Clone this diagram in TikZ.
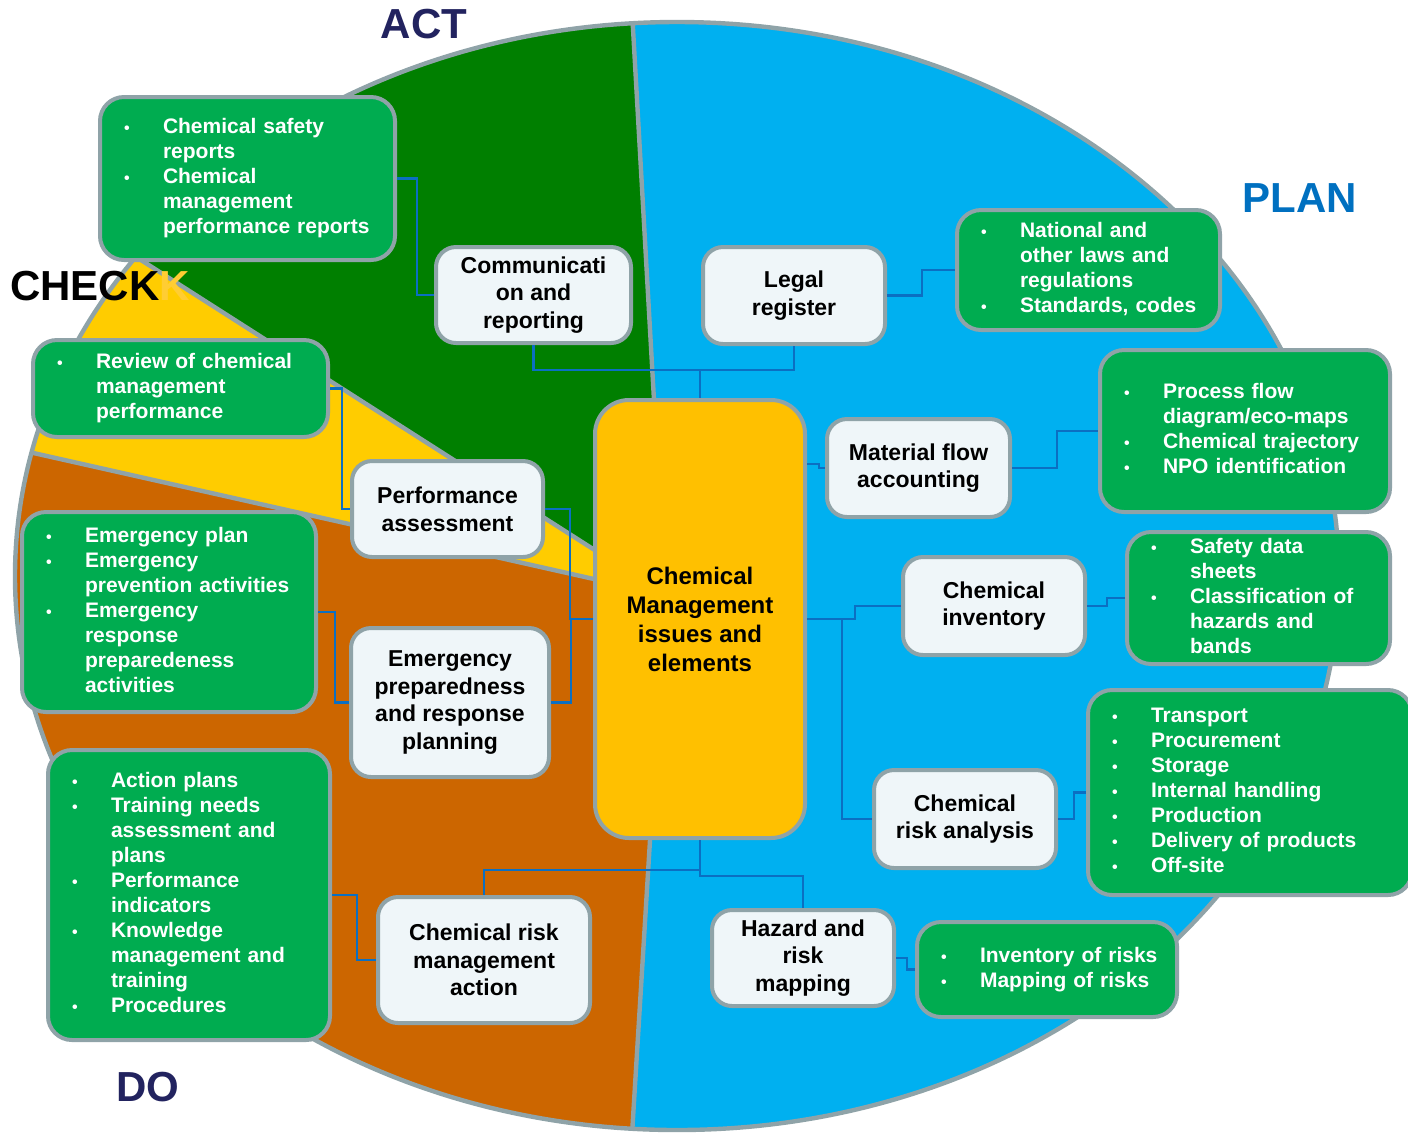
\documentclass[tikz,border=0pt]{standalone}
\usepackage{fontspec}
\setmainfont{Liberation Sans}
\usetikzlibrary{positioning,calc}
\definecolor{planblue}{HTML}{00B0F0}
\definecolor{actgreen}{HTML}{007F00}
\definecolor{checkyellow}{HTML}{FFCC00}
\definecolor{doorange}{HTML}{CC6600}
\definecolor{boxgreen}{HTML}{00AC50}
\definecolor{coreyellow}{HTML}{FFC000}
\definecolor{boxwhite}{HTML}{EFF6F9}
\definecolor{rimgray}{HTML}{8FA3A8}
\definecolor{linkblue}{HTML}{0B6FC2}
\definecolor{navy}{HTML}{22235F}
\definecolor{planlabel}{HTML}{0070C0}
\tikzstyle{phase} = [font=\bfseries\fontsize{21}{21}\selectfont]
\tikzstyle{element} = [draw=rimgray, line width=2pt, fill=boxwhite, rounded corners=10pt, align=center, inner sep=2pt, font=\bfseries\fontsize{11.5}{13.8}\selectfont]
\tikzstyle{bullets} = [draw=rimgray, line width=2pt, fill=boxgreen, rounded corners=12pt, text=white, align=left, inner xsep=6pt, inner ysep=0pt, font=\bfseries\fontsize{10.5}{12.5}\selectfont]
\tikzstyle{core} = [element, fill=coreyellow, rounded corners=17pt, font=\bfseries\fontsize{12}{14.5}\selectfont]
\tikzstyle{link} = [draw=linkblue, line width=1.1pt]
\tikzstyle{rim} = [draw=rimgray, line width=2.2pt]
\newcommand{\blist}[1]{\begin{tabular}{@{}p{25.5pt}@{}l@{}}#1\end{tabular}}
\newcommand{\bu}{\hspace*{6pt}{\footnotesize\textbullet}}

\begin{document}
\begin{tikzpicture}[x=0.5pt,y=-0.5pt]
\useasboundingbox (0,0) rectangle (1408,1132);
% the four PDCA sectors
\begin{scope}
\clip (677,576) ellipse [x radius=662, y radius=554];
\fill[planblue] (665,595) -- (628,-60) -- (1500,-60) -- (1500,1200) -- (628,1200) -- cycle;
\fill[actgreen] (665,595) -- (628,-60) -- (-100,-60) -- (-100,106) -- cycle;
\fill[checkyellow] (665,595) -- (-100,106) -- (-100,423) -- cycle;
\fill[doorange] (665,595) -- (-100,423) -- (-100,1200) -- (628,1200) -- cycle;
\draw[rim] (665,595) -- (628,-60) (665,595) -- (628,1200) (665,595) -- (-100,106) (665,595) -- (-100,423);
\end{scope}
\draw[rim] (677,576) ellipse [x radius=662, y radius=554];

\node[phase, text=navy] (act) at (424,24) {ACT};
\node[phase, text=planlabel] (plan) at (1300,198) {PLAN};
\node[phase, anchor=west] (check) at (3,286) {CHECK\textcolor{coreyellow!80}{K}};
\node[phase, text=navy] (do) at (148,1087) {DO};

% centre and elements
\node[core, minimum width=105pt, minimum height=219pt] (chem) at (700,619) {Chemical\\Management\\issues and\\elements};
\node[element, minimum width=97.5pt, minimum height=48pt] (comm) at (533.5,295) {Communicati\\on and\\reporting};
\node[element, minimum width=91pt, minimum height=48.5pt] (legal) at (794,295.5) {Legal\\register};
\node[element, minimum width=95.5pt, minimum height=48pt] (perf) at (447.5,509) {Performance\\assessment};
\node[element, minimum width=91.5pt, minimum height=49pt] (matflow) at (918.5,468) {Material flow\\accounting};
\node[element, minimum width=91pt, minimum height=49pt] (inventory) at (994,606) {Chemical\\inventory};
\node[element, minimum width=99pt, minimum height=74.5pt] (emplan) at (450,702.5) {Emergency\\preparedness\\and response\\planning};
\node[element, minimum width=91pt, minimum height=49pt] (riskan) at (965,819) {Chemical\\risk analysis};
\node[element, minimum width=106pt, minimum height=63pt] (riskmgmt) at (484,960) {Chemical risk\\management\\action};
\node[element, minimum width=91pt, minimum height=48pt] (hazard) at (803,958) {Hazard and\\risk\\mapping};

% bullet boxes
\node[bullets, text width=135.5pt, minimum height=81.5pt] (gSafety) at (247.5,178.5) {\blist{\bu & Chemical safety\\ & reports\\ \bu & Chemical\\ & management\\ & performance reports}};
\node[bullets, text width=135.5pt, minimum height=48.5pt] (gReview) at (180.5,388.5) {\blist{\bu & Review of chemical\\ & management\\ & performance}};
\node[bullets, text width=135pt, minimum height=100pt] (gEmerg) at (169,612) {\blist{\bu & Emergency plan\\ \bu & Emergency\\ & prevention activities\\ \bu & Emergency\\ & response\\ & preparedeness\\ & activities}};
\node[bullets, text width=129pt, minimum height=145pt] (gAction) at (189,895) {\blist{\bu & Action plans\\ \bu & Training needs\\ & assessment and\\ & plans\\ \bu & Performance\\ & indicators\\ \bu & Knowledge\\ & management and\\ & training\\ \bu & Procedures}};
\node[bullets, text width=119.5pt, minimum height=60pt] (gNational) at (1088.5,270) {\blist{\bu & National and\\ & other laws and\\ & regulations\\ \bu & Standards, codes}};
\node[bullets, text width=133pt, minimum height=81pt] (gProcess) at (1245,431) {\blist{\bu & Process flow\\ & diagram/eco-maps\\ \bu & Chemical trajectory\\ \bu & NPO identification}};
\node[bullets, text width=119.5pt, minimum height=66pt] (gSds) at (1258.5,598) {\blist{\bu & Safety data\\ & sheets\\ \bu & Classification of\\ & hazards and\\ & bands}};
\node[bullets, text width=150pt, minimum height=102.5pt] (gTransport) at (1250,792.5) {\blist{\bu & Transport\\ \bu & Procurement\\ \bu & Storage\\ \bu & Internal handling\\ \bu & Production\\ \bu & Delivery of products\\ \bu & Off-site}};
\node[bullets, text width=118pt, minimum height=47.5pt] (gRisks) at (1047,969.5) {\blist{\bu & Inventory of risks\\ \bu & Mapping of risks}};

% connectors
\coordinate (hub) at (700,370);
\draw[link] (gSafety.east) -- ++(20,0) |- (comm.west);
\draw[link] (comm.south) |- (hub) -- (chem.north);
\draw[link] (legal.south) |- (hub);
\draw[link] (legal.east) -- ++(35,0) |- (gNational.west);
\draw[link] (gReview.east) -- ++(12,0) |- (perf.west);
\draw[link] (perf.east) -- ++(25,0) |- (chem.west);
\draw[link] (emplan.east) -- ++(20,0) |- (chem.west);
\draw[link] (gEmerg.east) -- ++(17,0) |- (emplan.west);
\draw[link] (gAction.east) -- ++(25,0) |- (riskmgmt.west);
\draw[link] (chem.south) -- ++(0,30) -| (riskmgmt.north);
\draw[link] (chem.south) -- ++(0,36) -| (hazard.north);
\draw[link] (hazard.east) -- ++(11,0) |- (gRisks.west);
\draw[link] (chem.east |- 0,464) -- ++(12,0) |- (matflow.west);
\draw[link] (matflow.east) -- ++(45,0) |- (gProcess.west);
\draw[link] (chem.east) -- ++(48,0) |- (inventory.west);
\draw[link] (chem.east) -- ++(35,0) |- (riskan.west);
\draw[link] (inventory.east) -- ++(20,0) |- (gSds.west);
\draw[link] (riskan.east) -- ++(16,0) |- (gTransport.west);
\end{tikzpicture}
\end{document}
